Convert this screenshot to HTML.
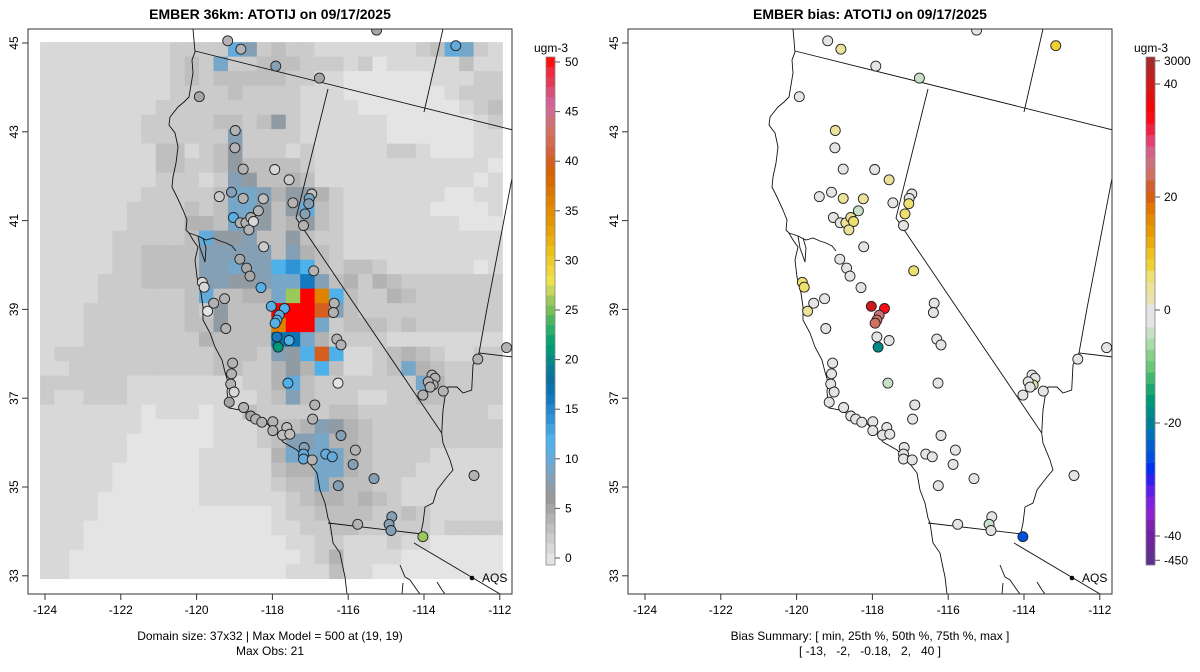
<!DOCTYPE html>
<html><head><meta charset="utf-8"><title>EMBER ATOTIJ</title>
<style>
html,body{margin:0;padding:0;background:#fff;}
svg{display:block;font-family:"Liberation Sans",Arial,sans-serif;}
</style></head>
<body>
<svg id="root" width="1200" height="672" viewBox="0 0 1200 672" xmlns="http://www.w3.org/2000/svg">
<defs>
<clipPath id="clipL"><rect x="28" y="29" width="484" height="565"/></clipPath>
<clipPath id="clipR"><rect x="628" y="29" width="484" height="565"/></clipPath>
</defs>
<text x="270" y="19" text-anchor="middle" font-size="14" font-weight="bold">EMBER 36km: ATOTIJ on 09/17/2025</text>
<text x="870" y="19" text-anchor="middle" font-size="14" font-weight="bold">EMBER bias: ATOTIJ on 09/17/2025</text>
<g id="panelL"></g>
<g id="panelR"></g>
<g id="cbL"></g>
<g id="cbR"></g>
<text x="270" y="640" text-anchor="middle" font-size="12">Domain size: 37x32 | Max Model = 500 at (19, 19)</text>
<text x="270" y="655" text-anchor="middle" font-size="12">Max Obs: 21</text>
<text x="870" y="640" text-anchor="middle" font-size="12">Bias Summary: [ min, 25th %, 50th %, 75th %, max ]</text>
<text x="870" y="655" text-anchor="middle" font-size="12" xml:space="preserve">[ -13,   -2,   -0.18,   2,   40 ]</text>
</svg>
<script>
// ---------- data ----------
const gridRows = [
"11111111122228623221111111238721",
"11111111123272233322212011111311",
"11111111123233333221100000011122",
"11111111122223222211100000001222",
"11111111222222222211110000000123",
"11111112222233235211111100000012",
"11111112222226222211111100000011",
"11111111331235222121111122100011",
"11111111332235333321111111111110",
"11111111222126533431111111111101",
"11111112222237764554211111110011",
"11111122223237753583211111100001",
"11111122224437653453211111111000",
"11111222223855633532211111111111",
"11111223333666663643211111111111",
"11111223333667669a93233211111101",
"111122233336655677b6342432222222",
"11112222223833447gRo932243222222",
"1112222222325333RRRr632222222222",
"1112222222335333oRR7233323222222",
"1112222222243333cc74222211111111",
"1222222222223332659r911234321122",
"11222222222233224549311237432222",
"22222211111111224832222222742222",
"21122211111111123632221122332222",
"11111110111011322222332222222221",
"11111110000011123346543222222222",
"11111100000011123667443222222222",
"11111100000111114777743222211111",
"11111000000111113447743222111111",
"11111000000111112337433221111111",
"11110000000111111234434321111111",
"11110000000000001223333223211111",
"11100000000000001122332222212222",
"11100000000000000112211121100000",
"11000000000000000012411110000000",
"11000000000000000111311000000000"
];
const codeValues = {"0":0,"1":1,"2":2,"3":3,"4":4,"5":7,"6":8,"7":9,"8":10,"9":12,"a":14,"b":16,"c":17,"g":26,"o":36,"r":40,"R":55};
const gridLon0 = -124.13, gridLat0 = 45.02, gridDLon = 0.3813, gridDLat = 0.3266;

const siteLon = [-119.18,-118.83,-117.91,-116.76,-119.93,-118.98,-118.99,-118.77,-117.94,-117.56,
-119.40,-119.08,-118.77,-118.24,-116.96,-117.03,-117.04,-117.46,-117.14,-117.18,
-118.37,-119.03,-118.85,-118.70,-118.57,-118.50,-118.62,-118.23,-118.86,-118.68,
-118.59,-118.30,-116.91,-119.85,-119.80,-119.26,-119.55,-119.71,-118.03,-117.68,
-117.82,-117.88,-117.93,-116.37,-116.39,-115.25,-113.16,-117.88,-117.56,-117.85,
-116.30,-116.19,-117.59,-116.27,-116.88,-116.94,-117.99,-117.99,-117.62,-117.73,
-117.54,-116.19,-117.16,-117.18,-117.18,-116.95,-116.59,-116.42,-115.81,-115.87,
-115.32,-116.26,-114.85,-114.92,-114.87,-115.75,-114.03,-113.79,-113.71,-113.76,
-113.89,-113.84,-114.03,-113.49,-112.58,-111.82,-112.68,-119.23,-119.05,-119.08,
-119.10,-119.01,-119.14,-118.76,-118.57,-118.44,-118.28];
const siteLat = [45.05,44.86,44.48,44.21,43.79,43.03,42.64,42.16,42.15,41.92,
41.54,41.64,41.50,41.49,41.60,41.50,41.38,41.40,41.15,40.89,
41.22,41.07,40.95,40.95,41.07,40.98,40.79,40.41,40.13,39.93,
39.75,39.49,39.87,39.61,39.50,39.24,39.14,38.96,39.07,39.02,
38.87,38.76,38.69,39.14,38.93,45.29,44.94,38.38,38.30,38.15,
38.33,38.20,37.34,37.34,36.85,36.53,36.47,36.27,36.34,36.17,
36.19,36.16,35.89,35.74,35.63,35.61,35.74,35.68,35.83,35.51,
35.19,35.03,34.33,34.16,34.02,34.16,33.88,37.52,37.45,37.30,
37.37,37.25,37.07,37.16,37.88,38.14,35.26,38.57,37.79,37.55,
37.32,37.14,36.91,36.79,36.60,36.53,36.46];
const siteObs = [4,4,8,5,5,4,4,4,1,2,
2,8,4,3,3,9,8,4,8,4,
4,11,4,4,4,1,4,2,5,5,
5,11,4,1,1,4,4,0,11,12,
10,12,11,4,4,5,10,16,12,21,
4,4,12,0,4,4,4,4,3,3,
3,8,8,10,10,4,10,10,4,8,
8,8,8,8,8,4,26,4,4,4,
4,4,4,4,4,4,4,4,4,4,
4,1,5,4,5,4,4];
const siteBias = [0,4,0,-4,-3,4,0,0,0,4,
0,0,4,4,0,-3,6,0,6,0,
-4,0,0,3,4,6,4,0,0,0,
0,0,6,6,6,0,0,3,40,34,
25,24,23,0,0,0,7,0,0,-18,
0,0,-5,0,0,0,0,0,0,0,
0,0,0,0,0,0,0,-3,0,0,
0,0,-3,-4,-3,-3,-27,-3,0,4,
0,-3,0,0,0,-3,0,-2,0,0,
0,0,-3,0,-3,0,-3];

const obsTicks = [0,5,10,15,20,25,30,35,40,45,50];
const biasTicks = [-40,-20,0,20,40];

// ---------- scales ----------
const pxPerLon = 37.9, pxPerLat = 44.4;
function xs(lon){ return 45 + (lon + 124) * pxPerLon; }
function ys(lat){ return 43 + (45 - lat) * pxPerLat; }

function hex2rgb(h){ return [parseInt(h.substr(1,2),16),parseInt(h.substr(3,2),16),parseInt(h.substr(5,2),16)]; }
function interp(anchors, v){
  if (v <= anchors[0][0]) return anchors[0][1];
  if (v >= anchors[anchors.length-1][0]) return anchors[anchors.length-1][1];
  for (let i=0;i<anchors.length-1;i++){
    const a=anchors[i], b=anchors[i+1];
    if (v>=a[0] && v<=b[0]){
      const t=(v-a[0])/(b[0]-a[0]); const ca=hex2rgb(a[1]), cb=hex2rgb(b[1]);
      return "rgb("+ca.map((c,k)=>Math.round(c+(cb[k]-c)*t)).join(",")+")";
    }
  }
}
const obsAnchors=[[0,"#e4e4e4"],[1,"#d8d8d8"],[2,"#cbcbcb"],[3,"#bfbfbf"],[4,"#b3b3b3"],[5,"#a6a6a6"],[6,"#9a9a9a"],[7,"#919ba3"],[8,"#85a0b5"],[9,"#76a6c8"],[10,"#64aadb"],[11,"#55b0e6"],[12,"#4fb1ea"],[13,"#3fa4e2"],[14,"#2e94d6"],[15,"#2387cb"],[16,"#1479be"],[17,"#0a73b3"],[18,"#0a70a2"],[19,"#0a7a96"],[20,"#058a85"],[21,"#009a78"],[22,"#0aa26e"],[23,"#2aaf6a"],[24,"#4db45f"],[25,"#79bf56"],[26,"#9ac85a"],[27,"#c9d75a"],[28,"#eee24a"],[29,"#efd63d"],[30,"#eccc2a"],[31,"#ebc018"],[32,"#e8b010"],[33,"#e6a208"],[34,"#e49600"],[35,"#e28d00"],[36,"#e08200"],[37,"#dd7600"],[38,"#d96a00"],[39,"#d66405"],[40,"#d45f20"],[41,"#d5623c"],[42,"#d56a50"],[43,"#d47060"],[44,"#cf7078"],[45,"#d06a90"],[46,"#d4609a"],[47,"#db507a"],[48,"#e33a55"],[49,"#ef2a40"],[50,"#ff1010"],[51,"#ff0000"]];
const biasAnchors=[[-44,"#603090"],[-40,"#7020a0"],[-38,"#8020b0"],[-36,"#9020d0"],[-34,"#8020e0"],[-32,"#5a20e8"],[-30,"#3020f0"],[-28,"#0030f0"],[-26,"#0050e0"],[-24,"#0060d0"],[-22,"#0070b8"],[-20,"#007e98"],[-18,"#008a88"],[-16,"#009a78"],[-14,"#18a870"],[-12,"#40b870"],[-10,"#68c878"],[-8,"#88d088"],[-6,"#a8dca8"],[-4,"#c8e0c8"],[-2,"#e4e4e4"],[0,"#e4e4e4"],[2,"#e8e2b0"],[4,"#ece29a"],[6,"#eee070"],[8,"#f0d030"],[10,"#eec020"],[12,"#eaaa10"],[14,"#e69a00"],[16,"#e28a00"],[18,"#e07800"],[20,"#d86010"],[22,"#d06030"],[24,"#d07060"],[26,"#cc7080"],[28,"#d46088"],[30,"#e44070"],[32,"#f02040"],[35,"#ff0000"],[38,"#e01010"],[41,"#c81e1e"],[44,"#a52a2a"]];
function obsColor(v){ return interp(obsAnchors, Math.round(Math.max(-1,Math.min(51,v)))); }
function biasColor(v){ return interp(biasAnchors, Math.round(v/2)*2); }

const NS="http://www.w3.org/2000/svg";
function mk(tag, attrs, parent){ const e=document.createElementNS(NS,tag); for(const k in attrs) e.setAttribute(k,attrs[k]); parent.appendChild(e); return e; }

// static map outline (pixel polylines, left-panel coords)
const coast=[[193,29],[195,52],[192,60],[193,73],[189,97],[184,102],[178,107],[170,117],[169,125],[175,133],[178,147],[176,163],[173,177],[172,187],[177,197],[183,210],[187,220],[186,230],[189,233],[193,240],[198,247],[195,260],[197,277],[201,293],[203,307],[203,320],[210,333],[215,347],[222,360],[225,372],[228,382],[227,392],[229,408],[240,410],[250,415],[263,420],[277,433],[283,442],[297,450],[307,460],[317,473],[320,490],[325,503],[328,518],[330,523],[333,543],[340,553],[342,563],[345,577],[347,594]];
const bay=[[189,233],[198,236],[206,240],[213,238],[220,241],[226,243],[232,246],[236,251]];
const bay2=[[198,236],[200,248],[205,262],[206,248],[203,238]];
const orBorder=[[195,51],[513,130]];
const caNv=[[328,89],[296,218],[441.7,433],[443,443],[450,460],[453,470],[447,477],[437,490],[433,503],[425,507],[423,523],[420,537]];
const mexCa=[[328,523],[422,534]];
const mexAz=[[414,543],[500,594]];
const idNv=[[443,29],[424,112]];
const utEast=[[513,173],[486.7,310],[479,353],[513,357]];
const colo=[[479,353],[473,365],[471.7,390],[463,393],[457,387],[448,387],[445,397],[443,410],[441.7,433]];
const gulf=[[400,565],[405,577],[410,580],[417,590],[420,594]];
const gulf2=[[403,583],[402,594]];
const gulf3=[[437,582],[442,590],[445,594]];
const mapLines=[coast,bay,bay2,orBorder,caNv,mexCa,mexAz,idNv,utEast,colo,gulf,gulf2,gulf3];

function drawPanel(gid, dx, clipId, isBias){
  const g=document.getElementById(gid);
  const inner=mk("g",{"clip-path":"url(#"+clipId+")"},g);
  if(!isBias){
    const hm=mk("g",{},inner);
    
    
    gridRows.forEach((row,r)=>{
      for(let c=0;c<row.length;c++){
        const v=codeValues[row[c]];
        const x0=xs(gridLon0+c*gridDLon)+dx, x1=xs(gridLon0+(c+1)*gridDLon)+dx;
        const y0=ys(gridLat0-r*gridDLat), y1=ys(gridLat0-(r+1)*gridDLat);
        const rc=mk("rect",{x:x0.toFixed(2),y:y0.toFixed(2),width:(x1-x0+0.4).toFixed(2),height:(y1-y0+0.4).toFixed(2),fill:obsColor(v)},hm);
        
        
      }
    });
  }
  const ml=mk("g",{fill:"none",stroke:"#111","stroke-width":"0.9"},inner);
  
  
  mapLines.forEach(l=>{ mk("polyline",{points:l.map(p=>(p[0]+dx)+","+p[1]).join(" ")},ml); });
  const pts=mk("g",{},inner);
  
  
  for(let i=0;i<siteLon.length;i++){
    const col=isBias?biasColor(siteBias[i]):obsColor(siteObs[i]);
    const ci=mk("circle",{cx:(xs(siteLon[i])+dx).toFixed(1),cy:ys(siteLat[i]).toFixed(1),r:"5",fill:col,stroke:"#222","stroke-width":"0.9"},pts);
    
    
  }
  // AQS legend
  const lg=mk("g",{},g);
  
  
  mk("circle",{cx:472+dx,cy:578,r:2.3,fill:"#000"},lg);
  const lt=mk("text",{x:482+dx,y:582,"font-size":"12"},lg); lt.textContent="AQS";
  // frame
  const fr=mk("rect",{x:28+dx,y:29,width:484,height:565,fill:"none",stroke:"#333","stroke-width":"1"},g);
  
  
  // x axis
  const xa=mk("g",{},g);
  
  
  for(let lon=-124;lon<=-112;lon+=2){
    const x=xs(lon)+dx;
    mk("line",{x1:x,y1:594,x2:x,y2:600,stroke:"#333"},xa);
    const t=mk("text",{x:x,y:614,"text-anchor":"middle","font-size":"12"},xa); t.textContent=String(lon);
  }
  const ya=mk("g",{},g);
  
  
  for(let lat=33;lat<=45;lat+=2){
    const y=ys(lat);
    mk("line",{x1:22+dx,y1:y,x2:28+dx,y2:y,stroke:"#333"},ya);
    const t=mk("text",{x:18+dx,y:y,"text-anchor":"middle","font-size":"12",transform:"rotate(-90 "+(18+dx)+" "+y+")"},ya); t.textContent=String(lat);
  }
}
drawPanel("panelL",0,"clipL",false);
drawPanel("panelR",600,"clipR",true);

// colorbars
(function(){
  const g=document.getElementById("cbL");
  const top=57, bot=565, x=546, w=9;
  const yv=v=>558-(v)*9.92;
  for(let v=-1;v<=51;v++){
    let y0=Math.max(top,yv(v+0.5)), y1=Math.min(bot,yv(v-0.5));
    if(y1<=y0) continue;
    const r=mk("rect",{x:x,y:y0,width:w,height:(y1-y0+0.3),fill:obsColor(v)},g);
    
    
  }
  mk("rect",{x:x,y:top,width:w,height:bot-top,fill:"none",stroke:"#888","stroke-width":"0.8"},g);
  obsTicks.forEach(v=>{ const y=yv(v); mk("line",{x1:x+w,y1:y,x2:x+w+5,y2:y,stroke:"#555"},g);
    const t=mk("text",{x:x+w+10,y:y+4,"font-size":"12"},g); t.textContent=String(v); });
  const u=mk("text",{x:551,y:52,"text-anchor":"middle","font-size":"12"},g); u.textContent="ugm-3";
})();
(function(){
  const g=document.getElementById("cbR");
  const top=57, bot=565, x=1146, w=9;
  const yv=v=>310-v*5.65;
  for(let v=-46;v<=46;v+=2){
    let y0=Math.max(top,yv(v+1)), y1=Math.min(bot,yv(v-1));
    if(y1<=y0) continue;
    const r=mk("rect",{x:x,y:y0,width:w,height:(y1-y0+0.3),fill:biasColor(v)},g);
    
    
  }
  mk("rect",{x:x,y:top,width:w,height:bot-top,fill:"none",stroke:"#888","stroke-width":"0.8"},g);
  const labs=biasTicks.map(v=>[v,String(v)]).concat([[44.1,"3000"],[-44.3,"-450"]]);
  labs.forEach(p=>{ const y=yv(p[0]); mk("line",{x1:x+w,y1:y,x2:x+w+5,y2:y,stroke:"#555"},g);
    const t=mk("text",{x:x+w+9,y:y+4,"font-size":"12"},g); t.textContent=p[1]; });
  const u=mk("text",{x:1151,y:52,"text-anchor":"middle","font-size":"12"},g); u.textContent="ugm-3";
})();
</script>
</body></html>
